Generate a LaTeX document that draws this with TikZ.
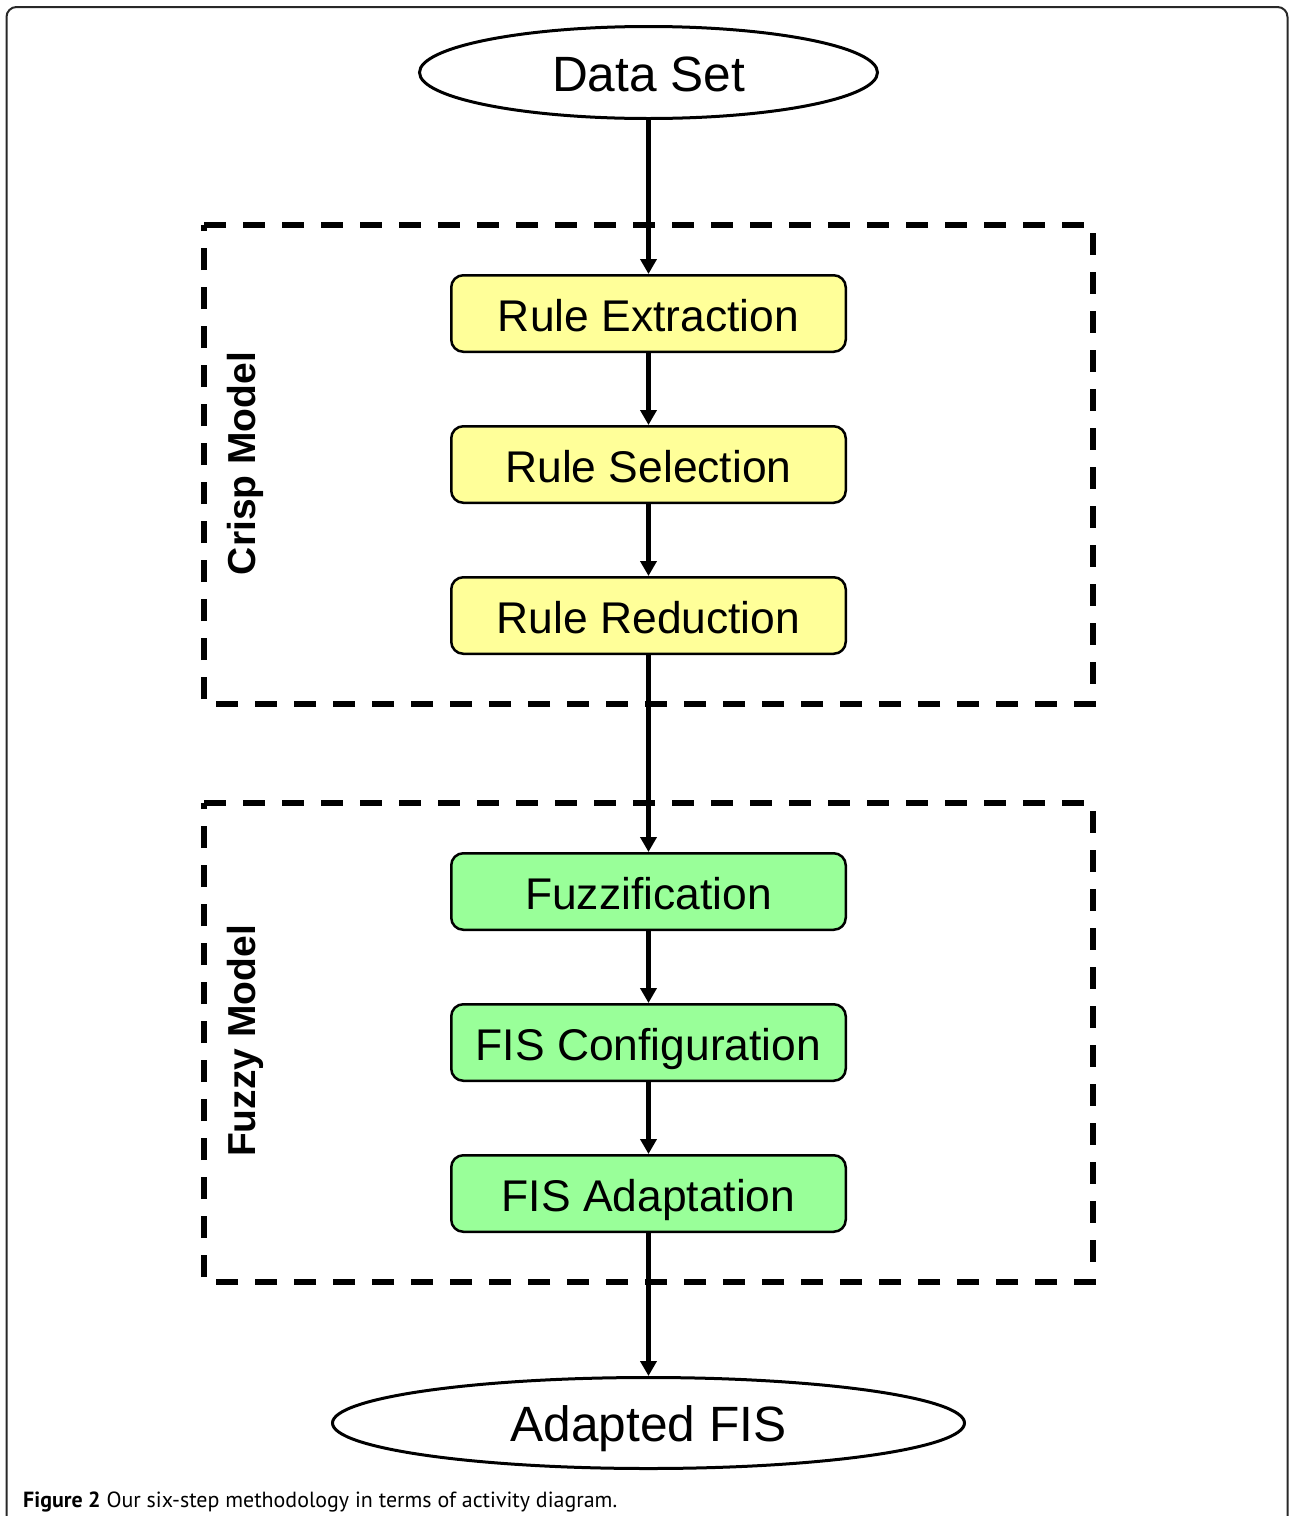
\documentclass[tikz,border=0pt]{standalone}
\usepackage{fontspec}
\setmainfont{Liberation Sans}
\newfontfamily\capfont{PT Sans}
\usetikzlibrary{arrows.meta,shapes.geometric}
\definecolor{yellowfill}{RGB}{255,255,153}
\definecolor{greenfill}{RGB}{153,255,153}
\definecolor{framecol}{RGB}{40,40,40}
\begin{document}
\begin{tikzpicture}[x=1pt,y=-1pt,
  stepbox/.style={draw=black, line width=2.5pt, rounded corners=12pt,
    minimum width=394.5pt, minimum height=76.5pt, inner sep=0pt,
    font=\fontsize{44.4}{50}\selectfont, text height=35pt, text depth=0pt},
  crispbox/.style={stepbox, fill=yellowfill},
  fuzzybox/.style={stepbox, fill=greenfill},
  terminal/.style={draw=black, ellipse, line width=3pt, inner sep=0pt,
    font=\fontsize{49.6}{55}\selectfont, text height=37pt, text depth=0pt},
  arr/.style={line width=4.5pt, -{Triangle[length=15pt,width=16pt]}},
  region/.style={draw=black, line width=5.5pt, dash pattern=on 22pt off 17pt},
  regionlabel/.style={rotate=90, anchor=base, inner sep=0pt,
    font=\bfseries\fontsize{39}{40}\selectfont},
  frameline/.style={draw=framecol, line width=2pt, rounded corners=10pt}
]
\useasboundingbox (0,0) rectangle (1289,1516);

% outer frame
\draw[frameline] (6.5,1530) -- (6.5,7) -- (1287.5,7) -- (1287.5,1530);

% dashed regions
\draw[region] (204,225) -- (1093,225) -- (1093,704) -- (204,704) -- cycle;
\draw[region] (204,803) -- (1093,803) -- (1093,1282) -- (204,1282) -- cycle;

\node[regionlabel] (crispl) at (255,463.5) {Crisp Model};
\node[regionlabel] (fuzzyl) at (255,1041) {Fuzzy Model};

% nodes
\node[terminal, minimum width=458pt, minimum height=92pt] (ds) at (648.5,72.5) {Data Set};
\node[crispbox] (re) at (648.5,313.5) {Rule Extraction};
\node[crispbox] (rs) at (648.5,464.5) {Rule Selection};
\node[crispbox] (rr) at (648.5,615.5) {Rule Reduction};
\node[fuzzybox] (fz) at (648.5,891.5) {Fuzzification};
\node[fuzzybox] (fc) at (648.5,1042.5) {FIS Configuration};
\node[fuzzybox] (fa) at (648.5,1193.5) {FIS Adaptation};
\node[terminal, minimum width=632pt, minimum height=91pt] (af) at (648.5,1423) {Adapted FIS};

% connectors
\draw[arr] (ds.south) -- (re.north);
\draw[arr] (re.south) -- (rs.north);
\draw[arr] (rs.south) -- (rr.north);
\draw[arr] (rr.south) -- (fz.north);
\draw[arr] (fz.south) -- (fc.north);
\draw[arr] (fc.south) -- (fa.north);
\draw[arr] (fa.south) -- (af.north);

% caption
\node[anchor=base west, inner sep=0pt, font=\capfont] (cap) at (23,1507)
  {\resizebox{594pt}{!}{\textbf{Figure 2} Our six-step methodology in terms of activity diagram.}};
\end{tikzpicture}
\end{document}
